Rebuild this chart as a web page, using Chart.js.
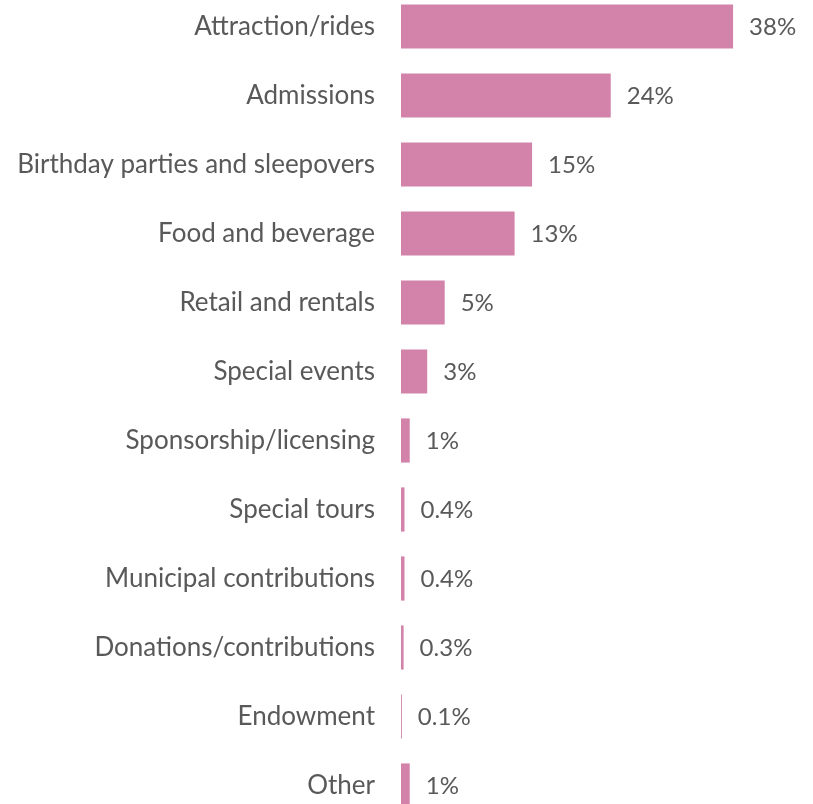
<!DOCTYPE html>
<html>
<head>
<meta charset="utf-8">
<script src="https://cdn.jsdelivr.net/npm/chart.js@4"></script>
<style>
  html, body { margin: 0; padding: 0; background: #fff; overflow: hidden; }
  /* the category axis keeps half a label of room above and below; pull that off-screen */
  #wrap { position: absolute; left: 0; top: -21px; width: 813px; height: 854px; }
</style>
</head>
<body>
<div id="wrap"><canvas id="myChart"></canvas></div>
<script>
const categories = [
  "Attraction/rides",
  "Admissions",
  "Birthday parties and sleepovers",
  "Food and beverage",
  "Retail and rentals",
  "Special events",
  "Sponsorship/licensing",
  "Special tours",
  "Municipal contributions",
  "Donations/contributions",
  "Endowment",
  "Other"
];
const shares = [38, 24, 15, 13, 5, 3, 1, 0.4, 0.4, 0.3, 0.1, 1];

const textColor = "#595959";
const barColor = "#d383a9";
const fontFamily = "Lato, 'Noto Sans', sans-serif";

// writes the percentage just past the end of each bar
const valueLabels = {
  id: "valueLabels",
  afterDatasetsDraw(chart) {
    const ctx = chart.ctx;
    const meta = chart.getDatasetMeta(0);
    ctx.save();
    ctx.font = "24px " + fontFamily;
    ctx.fillStyle = textColor;
    ctx.textAlign = "left";
    ctx.textBaseline = "middle";
    meta.data.forEach(function (bar, i) {
      ctx.fillText(shares[i] + "%", bar.x + 16, bar.y + 1);
    });
    ctx.restore();
  }
};

const ctx = document.getElementById("myChart").getContext("2d");
const myChart = new Chart(ctx, {
  type: "bar",
  data: {
    labels: categories,
    datasets: [
      {
        data: shares,
        backgroundColor: barColor,
        barPercentage: 0.64,
        categoryPercentage: 1,
      },
    ],
  },
  options: {
    indexAxis: "y",
    responsive: true,
    maintainAspectRatio: false,
    animation: false,
    layout: { padding: { left: 0, right: 10, top: 0, bottom: 0 } },
    scales: {
      x: {
        min: 0,
        max: 46,
        display: false,
        grid: { display: false },
      },
      y: {
        grid: { display: false, tickLength: 26 },
        border: { display: false },
        afterFit(scale) {
          scale.width = 401;
        },
        ticks: {
          color: textColor,
          padding: 0,
          font: { family: fontFamily, size: 26, lineHeight: 1 },
        },
      },
    },
    plugins: {
      legend: { display: false },
      tooltip: { enabled: false },
    },
  },
  plugins: [valueLabels],
});
</script>
</body>
</html>
